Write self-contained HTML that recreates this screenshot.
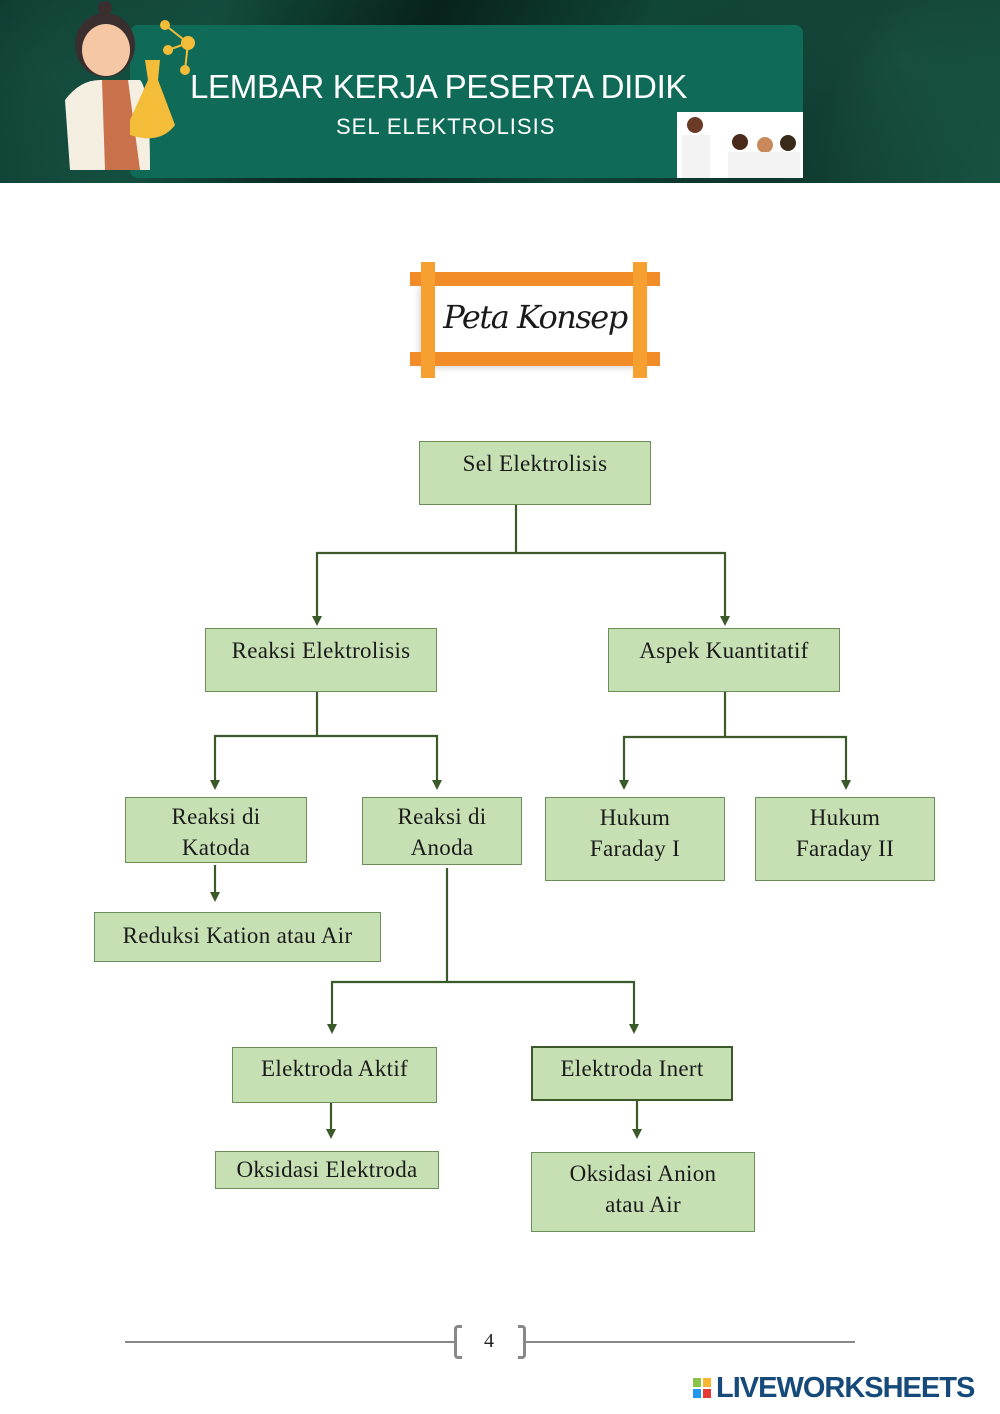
<!DOCTYPE html>
<html><head><meta charset="utf-8"><style>
*{margin:0;padding:0;box-sizing:border-box}
body{width:1000px;height:1414px;background:#fff;position:relative;overflow:hidden;font-family:"Liberation Serif",serif}
.b{position:absolute;background:#c6e0b4;border:1px solid #6a8f58;color:#1a1a1a;font-size:23px;line-height:31px;text-align:center;letter-spacing:0.3px;white-space:nowrap}
.hdr{position:absolute;left:0;top:0;width:1000px;height:183px;background:linear-gradient(120deg,#0b3029 0%,#124a3c 20%,#08221d 40%,#0f4436 60%,#0a2b24 80%,#124a3c 100%)}
</style></head><body>
<div class="hdr"></div>
<div style="position:absolute;left:0;top:0;width:1000px;height:183px;background:radial-gradient(circle at 90% 30%,rgba(40,120,95,.4),transparent 30%),radial-gradient(circle at 5% 40%,rgba(30,100,80,.4),transparent 25%)"></div>
<div style="position:absolute;left:130px;top:25px;width:673px;height:153px;background:#0f6b58;border-radius:8px"></div>
<div style="position:absolute;left:190px;top:68px;color:#fff;font-family:'Liberation Sans',sans-serif;font-size:33px;letter-spacing:-0.3px;white-space:nowrap">LEMBAR KERJA PESERTA DIDIK</div>
<div style="position:absolute;left:336px;top:114px;color:#fff;font-family:'Liberation Sans',sans-serif;font-size:22px;letter-spacing:1px">SEL ELEKTROLISIS</div>
<svg style="position:absolute;left:0;top:0" width="1000" height="183">
<path d="M70 170 L65 100 Q80 80 100 80 L140 80 Q150 90 150 170 Z" fill="#f5efe2"/>
<path d="M102 80 L128 80 L140 170 L105 170 Z" fill="#c9714b"/>
<ellipse cx="105" cy="45" rx="30" ry="32" fill="#3a2e2e"/>
<ellipse cx="106" cy="50" rx="24" ry="26" fill="#f6c7a4"/>
<circle cx="105" cy="8" r="7" fill="#3a2e2e"/>
<path d="M145 60 L160 60 L158 80 L175 125 Q160 145 130 135 L130 120 L148 80 Z" fill="#f4bd39"/>
<g stroke="#f4bd39" stroke-width="2" fill="#f4bd39"><line x1="165" y1="25" x2="188" y2="43"/><line x1="188" y1="43" x2="168" y2="50"/><line x1="188" y1="43" x2="185" y2="70"/><circle cx="165" cy="25" r="4"/><circle cx="188" cy="43" r="6"/><circle cx="168" cy="50" r="4"/><circle cx="185" cy="70" r="4"/></g>
<rect x="677" y="112" width="126" height="66" fill="#fff"/>
<circle cx="695" cy="125" r="8" fill="#6b3b26"/><rect x="682" y="135" width="28" height="43" fill="#f3f3f3"/>
<circle cx="740" cy="142" r="8" fill="#4a2a1a"/><circle cx="765" cy="145" r="8" fill="#c88a5a"/><circle cx="788" cy="143" r="8" fill="#3a2a1a"/>
<rect x="728" y="152" width="72" height="26" fill="#f3f3f3"/>
</svg>
<!-- Peta Konsep -->
<div style="position:absolute;left:425px;top:282px;width:222px;height:80px;background:#fff;box-shadow:-4px 4px 8px rgba(0,0,0,.25)"></div>
<div style="position:absolute;left:410px;top:272px;width:250px;height:14px;background:#f28c28"></div>
<div style="position:absolute;left:410px;top:352px;width:250px;height:14px;background:#f28c28"></div>
<div style="position:absolute;left:421px;top:262px;width:14px;height:116px;background:#f5a030"></div>
<div style="position:absolute;left:633px;top:262px;width:14px;height:116px;background:#f5a030"></div>
<div style="position:absolute;left:435px;top:298px;width:200px;text-align:center;font-family:'DejaVu Serif',serif;font-style:italic;font-size:32px;color:#1a1a1a;letter-spacing:-1.5px;white-space:nowrap">Peta Konsep</div>
<!-- connectors -->
<svg style="position:absolute;left:0;top:0" width="1000" height="1414">
<g stroke="#3b5a2a" stroke-width="2.2" fill="none">
<line x1="516" y1="505" x2="516" y2="553"/>
<polyline points="317,618 317,553 725,553 725,618"/>
<line x1="317" y1="692" x2="317" y2="736"/>
<polyline points="215,782 215,736 437,736 437,782"/>
<line x1="725" y1="692" x2="725" y2="737"/>
<polyline points="624,782 624,737 846,737 846,782"/>
<line x1="215" y1="865" x2="215" y2="894"/>
<line x1="447" y1="868" x2="447" y2="982"/>
<polyline points="332,1026 332,982 634,982 634,1026"/>
<line x1="331" y1="1103" x2="331" y2="1131"/>
<line x1="637" y1="1101" x2="637" y2="1131"/>
</g>
<g fill="#3b5a2a">
<path d="M312 616h10l-5 10z"/><path d="M720 616h10l-5 10z"/>
<path d="M210 780h10l-5 10z"/><path d="M432 780h10l-5 10z"/>
<path d="M619 780h10l-5 10z"/><path d="M841 780h10l-5 10z"/>
<path d="M210 892h10l-5 10z"/>
<path d="M327 1024h10l-5 10z"/><path d="M629 1024h10l-5 10z"/>
<path d="M326 1129h10l-5 10z"/><path d="M632 1129h10l-5 10z"/>
</g>
</svg>
<div class="b" style="left:419px;top:441px;width:232px;height:64px;padding-top:6px">Sel Elektrolisis</div>
<div class="b" style="left:205px;top:628px;width:232px;height:64px;padding-top:6px">Reaksi Elektrolisis</div>
<div class="b" style="left:608px;top:628px;width:232px;height:64px;padding-top:6px">Aspek Kuantitatif</div>
<div class="b" style="left:125px;top:797px;width:182px;height:66px;padding-top:3px">Reaksi di<br>Katoda</div>
<div class="b" style="left:362px;top:797px;width:160px;height:68px;padding-top:3px">Reaksi di<br>Anoda</div>
<div class="b" style="left:545px;top:797px;width:180px;height:84px;padding-top:4px">Hukum<br>Faraday I</div>
<div class="b" style="left:755px;top:797px;width:180px;height:84px;padding-top:4px">Hukum<br>Faraday II</div>
<div class="b" style="left:94px;top:912px;width:287px;height:50px;padding-top:7px">Reduksi Kation atau Air</div>
<div class="b" style="left:232px;top:1047px;width:205px;height:56px;padding-top:5px">Elektroda Aktif</div>
<div class="b" style="left:531px;top:1046px;width:202px;height:55px;padding-top:5px;border:2px solid #3b5a2a">Elektroda Inert</div>
<div class="b" style="left:215px;top:1151px;width:224px;height:38px;padding-top:2px">Oksidasi Elektroda</div>
<div class="b" style="left:531px;top:1152px;width:224px;height:80px;padding-top:5px">Oksidasi Anion<br>atau Air</div>
<!-- footer -->
<div style="position:absolute;left:125px;top:1341px;width:330px;height:2px;background:#888"></div>
<div style="position:absolute;left:525px;top:1341px;width:330px;height:2px;background:#888"></div>
<div style="position:absolute;left:454px;top:1325px;width:8px;height:34px;border:3px solid #888;border-right:none;border-radius:4px 0 0 4px"></div>
<div style="position:absolute;left:518px;top:1325px;width:8px;height:34px;border:3px solid #888;border-left:none;border-radius:0 4px 4px 0"></div>
<div style="position:absolute;left:484px;top:1330px;font-size:20px;color:#222">4</div>
<div style="position:absolute;left:693px;top:1378px;width:8px;height:9px;background:#8bc34a"></div>
<div style="position:absolute;left:703px;top:1378px;width:8px;height:9px;background:#f5b731"></div>
<div style="position:absolute;left:693px;top:1389px;width:8px;height:9px;background:#2196f3"></div>
<div style="position:absolute;left:703px;top:1389px;width:8px;height:9px;background:#e53935"></div>
<div style="position:absolute;left:716px;top:1372px;font-family:'Liberation Sans',sans-serif;font-weight:bold;font-size:29px;color:#154a7a;letter-spacing:-1px;line-height:32px;white-space:nowrap">LIVEWORKSHEETS</div>
</body></html>
